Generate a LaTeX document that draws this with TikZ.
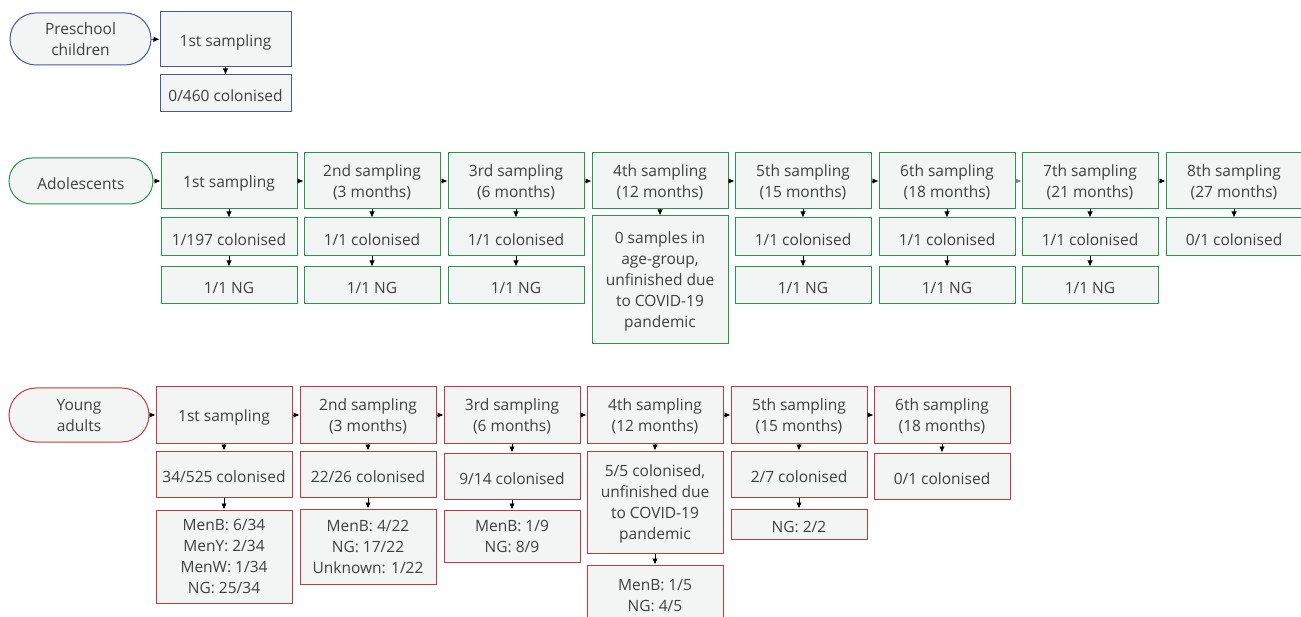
\documentclass[tikz,border=0pt]{standalone}
\usepackage{fontspec}
\setmainfont{Open Sans}
\usepackage{tikz}
\usetikzlibrary{arrows.meta,shapes.misc}
\definecolor{grptext}{RGB}{64,64,64}
\definecolor{boxfill}{RGB}{243,244,244}
\definecolor{preblue}{RGB}{72,88,168}
\definecolor{adogreen}{RGB}{40,150,80}
\definecolor{yared}{RGB}{196,58,60}

\begin{document}
\begin{tikzpicture}[x=1pt,y=-1pt,
  font=\fontsize{15.5}{21}\selectfont,
  box/.style={draw,fill=boxfill,text=grptext,line width=1pt,align=center,inner sep=0pt,minimum width=136pt,
    execute at begin node={\rule{0pt}{17pt}}},
  lines/.style={text depth=-3pt},
  grp/.style={box,rounded rectangle},
  arr/.style={-{Latex[length=6pt,width=5.5pt]},line width=0.8pt,black}]
\clip (0,0) rectangle (1301,617);
% preschool children
\node[grp,lines,draw=preblue,minimum width=141pt,minimum height=52pt] (pre) at (80.5,39) {Preschool\\children};
\node[box,draw=preblue,minimum width=131pt,minimum height=55pt] (pre1) at (225.5,39.5) {1st sampling};
\node[box,draw=preblue,minimum width=131pt,minimum height=37pt] (pre1c) at (225.5,93.5) {0/460 colonised};
\draw[arr] (pre) -- (pre1);
\draw[arr] (pre1) -- (pre1c);
% adolescents
\node[grp,draw=adogreen,minimum width=144pt,minimum height=46pt] (ado) at (81,181) {Adolescents};
\node[box,draw=adogreen,minimum height=56pt] (ado1) at (229,181) {1st sampling};
\node[box,lines,draw=adogreen,minimum height=56pt] (ado2) at (372,181) {2nd sampling\\(3 months)};
\node[box,lines,draw=adogreen,minimum height=56pt] (ado3) at (516,181) {3rd sampling\\(6 months)};
\node[box,lines,draw=adogreen,minimum height=56pt] (ado4) at (660,181) {4th sampling\\(12 months)};
\node[box,lines,draw=adogreen,minimum height=56pt] (ado5) at (803,181) {5th sampling\\(15 months)};
\node[box,lines,draw=adogreen,minimum height=56pt] (ado6) at (947,181) {6th sampling\\(18 months)};
\node[box,lines,draw=adogreen,minimum height=56pt] (ado7) at (1090,181) {7th sampling\\(21 months)};
\node[box,lines,draw=adogreen,minimum height=56pt] (ado8) at (1234,181) {8th sampling\\(27 months)};
\node[box,draw=adogreen,minimum height=38pt] (ado1c) at (229,237) {1/197 colonised};
\node[box,draw=adogreen,minimum height=38pt] (ado2c) at (372,237) {1/1 colonised};
\node[box,draw=adogreen,minimum height=38pt] (ado3c) at (516,237) {1/1 colonised};
\node[box,lines,draw=adogreen,minimum height=128pt] (ado4c) at (660,280) {0 samples in\\age-group,\\unfinished due\\to COVID-19\\pandemic};
\node[box,draw=adogreen,minimum height=38pt] (ado5c) at (803,237) {1/1 colonised};
\node[box,draw=adogreen,minimum height=38pt] (ado6c) at (947,237) {1/1 colonised};
\node[box,draw=adogreen,minimum height=38pt] (ado7c) at (1090,237) {1/1 colonised};
\node[box,draw=adogreen,minimum height=38pt] (ado8c) at (1234,237) {0/1 colonised};
\node[box,draw=adogreen,minimum height=37pt] (ado1n) at (229,285.5) {1/1 NG};
\node[box,draw=adogreen,minimum height=37pt] (ado2n) at (372,285.5) {1/1 NG};
\node[box,draw=adogreen,minimum height=37pt] (ado3n) at (516,285.5) {1/1 NG};
\node[box,draw=adogreen,minimum height=37pt] (ado5n) at (803,285.5) {1/1 NG};
\node[box,draw=adogreen,minimum height=37pt] (ado6n) at (947,285.5) {1/1 NG};
\node[box,draw=adogreen,minimum height=37pt] (ado7n) at (1090,285.5) {1/1 NG};
\draw[arr] (ado) -- (ado1);
\draw[arr] (ado1) -- (ado2);
\draw[arr] (ado2) -- (ado3);
\draw[arr] (ado3) -- (ado4);
\draw[arr] (ado4) -- (ado5);
\draw[arr] (ado5) -- (ado6);
\draw[arr,gray] (ado6) -- (ado7);
\draw[arr] (ado7) -- (ado8);
\draw[arr] (ado1) -- (ado1c);
\draw[arr] (ado2) -- (ado2c);
\draw[arr] (ado3) -- (ado3c);
\draw[arr] (ado4) -- (ado4c);
\draw[arr] (ado5) -- (ado5c);
\draw[arr] (ado6) -- (ado6c);
\draw[arr] (ado7) -- (ado7c);
\draw[arr] (ado8) -- (ado8c);
\draw[arr] (ado1c) -- (ado1n);
\draw[arr] (ado2c) -- (ado2n);
\draw[arr] (ado3c) -- (ado3n);
\draw[arr] (ado5c) -- (ado5n);
\draw[arr] (ado6c) -- (ado6n);
\draw[arr] (ado7c) -- (ado7n);
% young adults
\node[grp,lines,draw=yared,minimum width=140pt,minimum height=54pt] (ya) at (79,415) {Young\\adults};
\node[box,draw=yared,minimum height=56pt] (ya1) at (224,415) {1st sampling};
\node[box,lines,draw=yared,minimum height=56pt] (ya2) at (368,415) {2nd sampling\\(3 months)};
\node[box,lines,draw=yared,minimum height=56pt] (ya3) at (512,415) {3rd sampling\\(6 months)};
\node[box,lines,draw=yared,minimum height=56pt] (ya4) at (655,415) {4th sampling\\(12 months)};
\node[box,lines,draw=yared,minimum height=56pt] (ya5) at (799,415) {5th sampling\\(15 months)};
\node[box,lines,draw=yared,minimum height=56pt] (ya6) at (942,415) {6th sampling\\(18 months)};
\node[box,draw=yared,minimum height=46pt] (ya1c) at (224,474) {34/525 colonised};
\node[box,draw=yared,minimum height=46pt] (ya2c) at (368,474) {22/26 colonised};
\node[box,draw=yared,minimum height=46pt] (ya3c) at (512,476) {9/14 colonised};
\node[box,lines,draw=yared,minimum height=102pt] (ya4c) at (655,502) {5/5 colonised,\\unfinished due\\to COVID-19\\pandemic};
\node[box,draw=yared,minimum height=46pt] (ya5c) at (799,474) {2/7 colonised};
\node[box,draw=yared,minimum height=46pt] (ya6c) at (942,476) {0/1 colonised};
\node[box,lines,draw=yared,minimum height=93pt] (ya1s) at (224,556.5) {MenB: 6/34\\MenY: 2/34\\MenW: 1/34\\NG: 25/34};
\node[box,lines,draw=yared,minimum height=75pt] (ya2s) at (368,546.5) {MenB: 4/22\\NG: 17/22\\Unknown: 1/22};
\node[box,lines,draw=yared,minimum height=52pt] (ya3s) at (512,536) {MenB: 1/9\\NG: 8/9};
\node[box,lines,draw=yared,minimum height=61pt] (ya4s) at (655,595.5) {MenB: 1/5\\NG: 4/5};
\node[box,draw=yared,minimum height=30pt] (ya5s) at (799,524) {NG: 2/2};
\draw[arr] (ya) -- (ya1);
\draw[arr] (ya1) -- (ya2);
\draw[arr] (ya2) -- (ya3);
\draw[arr] (ya3) -- (ya4);
\draw[arr] (ya4) -- (ya5);
\draw[arr] (ya5) -- (ya6);
\draw[arr] (ya1) -- (ya1c);
\draw[arr] (ya2) -- (ya2c);
\draw[arr] (ya3) -- (ya3c);
\draw[arr] (ya4) -- (ya4c);
\draw[arr] (ya5) -- (ya5c);
\draw[arr] (ya6) -- (ya6c);
\draw[arr] (ya1c) -- (ya1s);
\draw[arr] (ya2c) -- (ya2s);
\draw[arr] (ya3c) -- (ya3s);
\draw[arr] (ya4c) -- (ya4s);
\draw[arr] (ya5c) -- (ya5s);
\end{tikzpicture}
\end{document}
